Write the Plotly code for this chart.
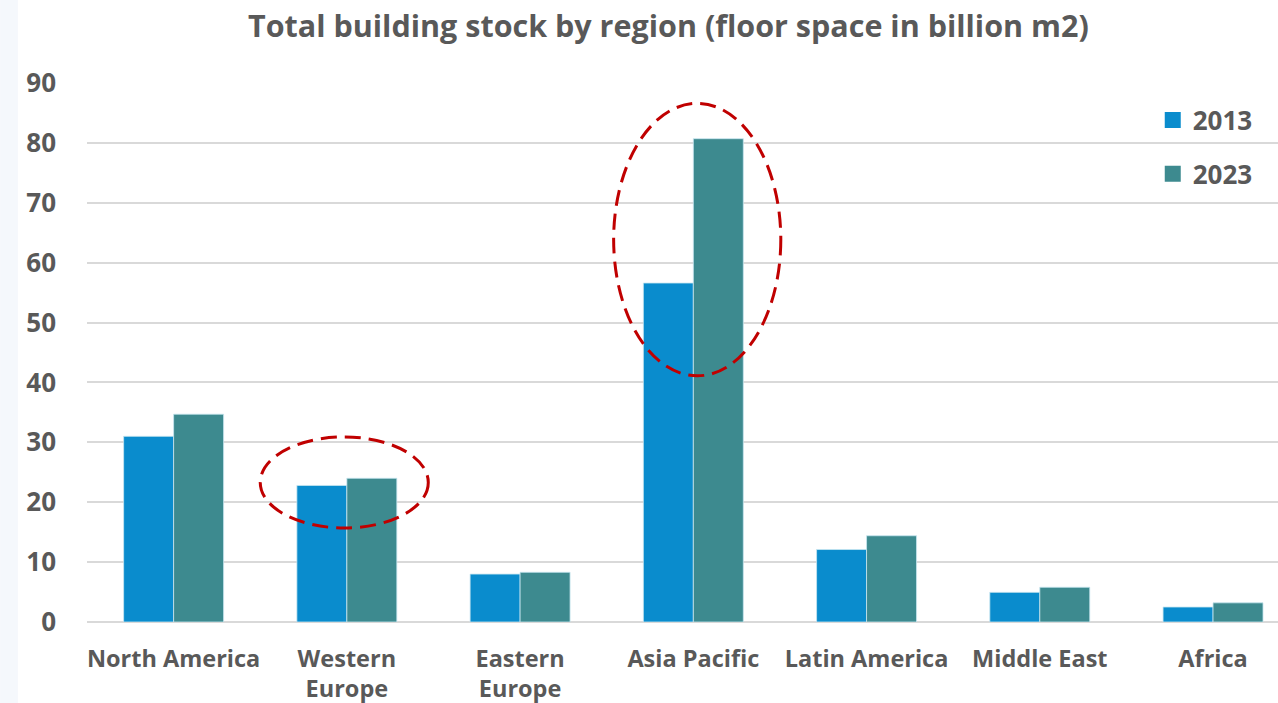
import plotly.graph_objects as go

# Floor space, billion m2
regions = ["North America", "Western<br>Europe", "Eastern<br>Europe", "Asia Pacific",
           "Latin America", "Middle East", "Africa"]
years = ["2013", "2023"]
stock_2013 = [31.0, 22.8, 8.0, 56.6, 12.1, 4.95, 2.5]
stock_2023 = [34.7, 24.0, 8.3, 80.7, 14.4, 5.8, 3.2]
y_ticks = [0, 10, 20, 30, 40, 50, 60, 70, 80, 90]

TEXT = "#595959"
FONT = "Open Sans"
COLORS = ["#0a8ccd", "#3d8a8f"]

fig = go.Figure()
for year, values, color in zip(years, [stock_2013, stock_2023], COLORS):
    fig.add_trace(go.Bar(
        name=year, x=list(range(len(regions))), y=values,
        marker=dict(color=color, line=dict(color="rgba(200,230,240,0.8)", width=1)),
        showlegend=False,
    ))

# Legend entries with larger square swatches
for i, (year, color) in enumerate(zip(years, COLORS)):
    fig.add_trace(go.Scatter(
        name=f"<b>{year}</b>", x=[None], y=[None], mode="markers",
        marker=dict(symbol="square", size=18, color=color),
        legendgroup=f"g{i}", showlegend=True,
    ))

# Dashed rings highlighting Western Europe and Asia Pacific
ring = dict(type="circle", xref="x", yref="y",
            line=dict(color="#c00000", width=3, dash="16px,8px"), layer="above")
fig.add_shape(x0=0.50, x1=1.47, y0=15.7, y1=30.9, **ring)
fig.add_shape(x0=2.54, x1=3.505, y0=41.1, y1=86.6, **ring)

# faint tint along the left edge
fig.add_shape(type="rect", xref="paper", yref="paper", x0=-0.073, x1=-0.058,
              y0=-0.2, y1=1.2, fillcolor="rgba(200,215,240,0.18)", line=dict(width=0),
              layer="below")

fig.update_layout(
    width=1278, height=703,
    margin=dict(l=87, r=0, t=83, b=81),
    paper_bgcolor="white", plot_bgcolor="white",
    barmode="group", bargap=0.423, bargroupgap=0,
    font=dict(family=FONT, color=TEXT, size=22),
    title=dict(text="<b>Total building stock by region (floor space in billion m2)</b>",
               x=0.523, xanchor="center", y=0.963, yanchor="middle",
               font=dict(family=FONT, size=30.5, color=TEXT)),
    legend=dict(x=0.983, xanchor="right", y=0.975, yanchor="top",
                font=dict(family=FONT, size=26, color=TEXT),
                tracegroupgap=17, bgcolor="rgba(0,0,0,0)", itemwidth=30),
    showlegend=True,
)

fig.update_xaxes(
    range=[-0.5, 6.375], tickmode="array", tickvals=list(range(len(regions))),
    ticktext=[f"<b>{r}</b>" for r in regions], showgrid=False, zeroline=False,
    showline=False, ticks="", tickfont=dict(family=FONT, size=23.5, color=TEXT),
    ticklabelstandoff=20,
)
fig.update_yaxes(
    range=[0, 90], tickvals=y_ticks, ticktext=[f"<b>{v}</b>" for v in y_ticks],
    showgrid=True, gridcolor="#d9d9d9", gridwidth=2, zeroline=True,
    zerolinecolor="#d9d9d9", zerolinewidth=2, showline=False, ticks="",
    tickfont=dict(family=FONT, size=26, color=TEXT), ticklabelstandoff=30,
)

fig.write_html("out.html")
